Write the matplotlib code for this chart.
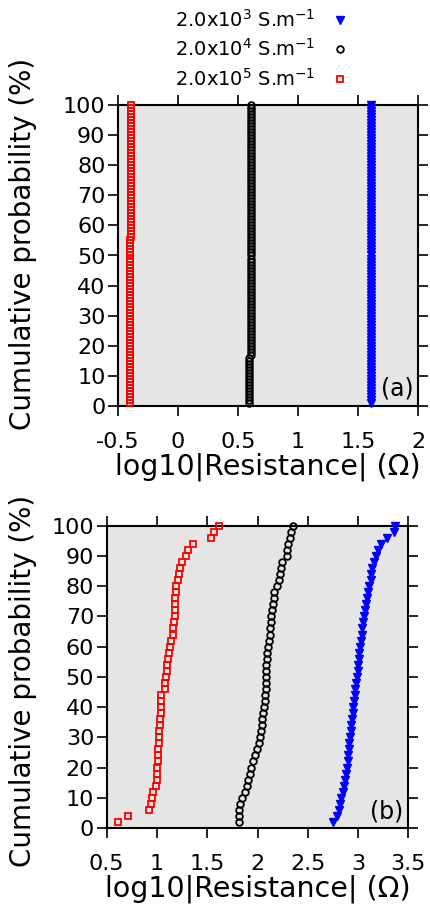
import matplotlib
matplotlib.use("Agg")
import matplotlib.pyplot as plt
from matplotlib.ticker import MultipleLocator, FuncFormatter

plt.rcParams['font.family'] = 'DejaVu Sans'
plt.rcParams['axes.unicode_minus'] = False

series_labels = [r'2.0x10$^{3}$ S.m$^{-1}$',
                 r'2.0x10$^{4}$ S.m$^{-1}$',
                 r'2.0x10$^{5}$ S.m$^{-1}$']

# (a) : cumulative probability, 1 % steps
top_prob = [1, 2, 3, 4, 5, 6, 7, 8, 9, 10, 11, 12, 13, 14, 15, 16, 17, 18, 19, 20,
            21, 22, 23, 24, 25, 26, 27, 28, 29, 30, 31, 32, 33, 34, 35, 36, 37, 38, 39, 40,
            41, 42, 43, 44, 45, 46, 47, 48, 49, 50, 51, 52, 53, 54, 55, 56, 57, 58, 59, 60,
            61, 62, 63, 64, 65, 66, 67, 68, 69, 70, 71, 72, 73, 74, 75, 76, 77, 78, 79, 80,
            81, 82, 83, 84, 85, 86, 87, 88, 89, 90, 91, 92, 93, 94, 95, 96, 97, 98, 99, 100]
top_blue = [1.605] * 100
top_black = [0.59] * 16 + [0.605] * 84
top_red = [-0.40] * 55 + [-0.39] * 45

# (b) : cumulative probability, 2 % steps
bot_prob = [2, 4, 6, 8, 10, 12, 14, 16, 18, 20, 22, 24, 26, 28, 30, 32, 34,
            36, 38, 40, 42, 44, 46, 48, 50, 52, 54, 56, 58, 60, 62, 64, 66,
            68, 70, 72, 74, 76, 78, 80, 82, 84, 86, 88, 90, 92, 94, 96, 98, 100]
bot_blue = [2.754, 2.788, 2.810, 2.821, 2.834, 2.850, 2.865, 2.874, 2.883, 2.890,
            2.896, 2.902, 2.908, 2.914, 2.920, 2.927, 2.932, 2.938, 2.945, 2.951,
            2.958, 2.965, 2.972, 2.979, 2.987, 2.997, 2.999, 3.005, 3.012, 3.020,
            3.029, 3.036, 3.044, 3.052, 3.058, 3.066, 3.075, 3.087, 3.095, 3.105,
            3.125, 3.130, 3.140, 3.155, 3.177, 3.200, 3.226, 3.285, 3.358, 3.368]
bot_black = [1.816, 1.818, 1.819, 1.830, 1.850, 1.872, 1.895, 1.910, 1.924, 1.940,
             1.954, 1.977, 1.995, 2.010, 2.024, 2.035, 2.043, 2.049, 2.058, 2.065,
             2.074, 2.079, 2.082, 2.083, 2.085, 2.087, 2.089, 2.092, 2.098, 2.105,
             2.112, 2.120, 2.126, 2.131, 2.138, 2.145, 2.152, 2.160, 2.168, 2.195,
             2.210, 2.226, 2.232, 2.240, 2.290, 2.290, 2.300, 2.320, 2.333, 2.350]
bot_red = [0.616, 0.712, 0.922, 0.940, 0.952, 0.962, 0.995, 1.000, 1.000, 1.002,
           1.006, 1.009, 1.012, 1.016, 1.020, 1.023, 1.030, 1.034, 1.038, 1.040,
           1.041, 1.045, 1.078, 1.081, 1.088, 1.095, 1.097, 1.107, 1.117, 1.127,
           1.138, 1.157, 1.162, 1.172, 1.176, 1.178, 1.181, 1.184, 1.186, 1.190,
           1.205, 1.215, 1.230, 1.250, 1.285, 1.306, 1.362, 1.535, 1.564, 1.620]

W, H = 430, 909
fig = plt.figure(figsize=(W / 100, H / 100), dpi=100)
ax1 = fig.add_axes([118 / W, 1 - 406 / H, 300 / W, 301 / H])
ax2 = fig.add_axes([106.7 / W, 1 - 828 / H, 301.6 / W, 302.3 / H])

blue_kw = dict(ls='none', marker='v', ms=6, color='blue', mec='blue', clip_on=False, zorder=5)
black_kw = dict(ls='none', marker='o', ms=4.8, mfc='none', mec='black', mew=1.3, clip_on=False, zorder=5)
red_kw = dict(ls='none', marker='s', ms=4.8, mfc='none', mec='red', mew=1.3, clip_on=False, zorder=5)

h1, = ax1.plot(top_blue, top_prob, **blue_kw)
h2, = ax1.plot(top_black, top_prob, **black_kw)
h3, = ax1.plot(top_red, top_prob, **red_kw)
ax2.plot(bot_blue, bot_prob, **blue_kw)
ax2.plot(bot_black, bot_prob, **black_kw)
ax2.plot(bot_red, bot_prob, **red_kw)

ax1.set_xlim(-0.5, 2)
ax2.set_xlim(0.5, 3.5)

for ax in (ax1, ax2):
    ax.set_facecolor('#e5e5e5')
    ax.set_ylim(0, 100)
    ax.xaxis.set_major_locator(MultipleLocator(0.5))
    ax.yaxis.set_major_locator(MultipleLocator(10))
    ax.xaxis.set_major_formatter(FuncFormatter(lambda v, p: '%g' % (round(v, 3) + 0.0)))
    ax.tick_params(direction='out', length=7, width=1.2, top=True, right=True,
                   labelsize=16)
    ax.tick_params(axis='y', pad=2)
    ax.tick_params(axis='x', pad=12)
    for s in ax.spines.values():
        s.set_linewidth(1.5)
    ax.set_xlabel('log10|Resistance| (Ω)', fontsize=20.5, labelpad=0)
    ax.set_ylabel('Cumulative probability (%)', fontsize=20)

ax1.yaxis.set_label_coords(-0.27, 0.54)
ax2.yaxis.set_label_coords(-0.232, 0.485)

ax1.text(0.985, 0.058, '(a)', transform=ax1.transAxes, ha='right', va='center', fontsize=17)
ax2.text(0.983, 0.054, '(b)', transform=ax2.transAxes, ha='right', va='center', fontsize=17)

fig.legend([h1, h2, h3], series_labels, loc='upper right',
           bbox_to_anchor=(350 / W, 1 - 9 / H), frameon=False, markerfirst=False,
           fontsize=14, handlelength=1.0, handletextpad=0.8, labelspacing=0.38,
           borderpad=0, borderaxespad=0, numpoints=1)

fig.savefig('out.png', dpi=100)
